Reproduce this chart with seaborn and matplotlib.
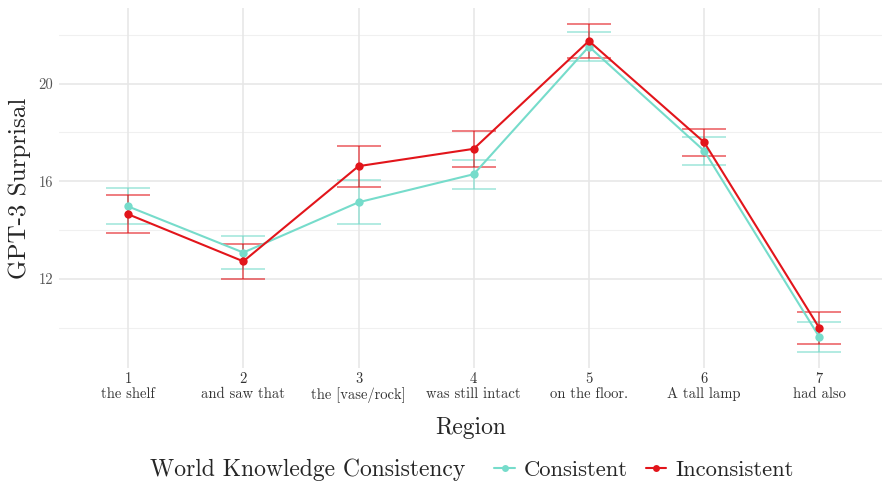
import numpy as np
import pandas as pd
import matplotlib
matplotlib.use("Agg")
import matplotlib.pyplot as plt
from matplotlib.lines import Line2D
import seaborn as sns

regions = [1, 2, 3, 4, 5, 6, 7]
region_words = ["the shelf", "and saw that", "the [vase/rock]", "was still intact",
                "on the floor.", "A tall lamp", "had also"]
conditions = ["Consistent", "Inconsistent"]

consistent_mean = [14.97, 13.08, 15.14, 16.29, 21.52, 17.25, 9.62]
consistent_err = [0.74, 0.69, 0.91, 0.60, 0.60, 0.57, 0.62]
inconsistent_mean = [14.65, 12.72, 16.62, 17.33, 21.75, 17.60, 9.99]
inconsistent_err = [0.77, 0.73, 0.84, 0.74, 0.69, 0.55, 0.64]

palette = {"Consistent": "#76DCCB", "Inconsistent": "#E2151B"}

df = pd.DataFrame({
    "Region": regions * 2,
    "Surprisal": consistent_mean + inconsistent_mean,
    "SE": consistent_err + inconsistent_err,
    "Condition": [conditions[0]] * 7 + [conditions[1]] * 7,
})

sns.set_theme(style="white")
plt.rcParams["font.family"] = ["cmr10", "DejaVu Serif"]
plt.rcParams["axes.formatter.use_mathtext"] = True

fig = plt.figure(figsize=(8.82, 4.86), dpi=100)
ax = fig.add_axes([59 / 882, 1 - 368 / 486, 823 / 882, 360 / 486])

# grid: major and minor horizontals, one vertical per region
for y in [10, 14, 18, 22]:
    ax.axhline(y, color="#F0F0F0", lw=0.8, zorder=0)
for y in [12, 16, 20]:
    ax.axhline(y, color="#E6E6E6", lw=1.1, zorder=0)
for x in regions:
    ax.axvline(x, color="#E6E6E6", lw=1.1, zorder=0)

# error bars drawn per condition
for cond in conditions:
    sub = df[df["Condition"] == cond]
    ax.errorbar(sub["Region"], sub["Surprisal"], yerr=sub["SE"], fmt="none",
                ecolor=palette[cond], alpha=0.65, elinewidth=1.2,
                capsize=16, capthick=1.2, zorder=2)

sns.lineplot(data=df, x="Region", y="Surprisal", hue="Condition",
             palette=palette, marker="o", markersize=6, markeredgewidth=0,
             linewidth=1.5, legend=False, ax=ax, zorder=3)

ax.set_xlim(0.4, 0.4 + 823 / 115.2)
ax.set_ylim(8.35, 23.1)
ax.set_xticks(regions)
ax.set_xticklabels([f"{r}\n{w}" for r, w in zip(regions, region_words)],
                   fontsize=10.5, color="#333333", linespacing=1.1)
ax.set_yticks([12, 16, 20])
ax.set_yticklabels(["12", "16", "20"], fontsize=10.5, color="#555555")
ax.tick_params(axis="both", length=0, pad=4)
ax.tick_params(axis="x", pad=3)
for s in ax.spines.values():
    s.set_visible(False)

ax.set_xlabel("Region", fontsize=17, labelpad=10)
ax.set_ylabel("GPT-3 Surprisal", fontsize=18)
ax.yaxis.set_label_coords(-0.034, 0.5)

# legend laid out in one row under the axis title
fig.text(150 / 882, 1 - 470 / 486, "World Knowledge Consistency",
         fontsize=17, va="center", ha="left")
handles = [Line2D([0], [0], color=palette[c], marker="o", markersize=5,
                  markeredgewidth=0, lw=1.5) for c in conditions]
fig.legend(handles, conditions, loc="center left",
           bbox_to_anchor=(474 / 882, 1 - 470 / 486), ncol=2, frameon=False,
           fontsize=16.3, handlelength=0.9, handletextpad=0.4, columnspacing=0.8)

fig.savefig("out.png", dpi=100, facecolor="white")
